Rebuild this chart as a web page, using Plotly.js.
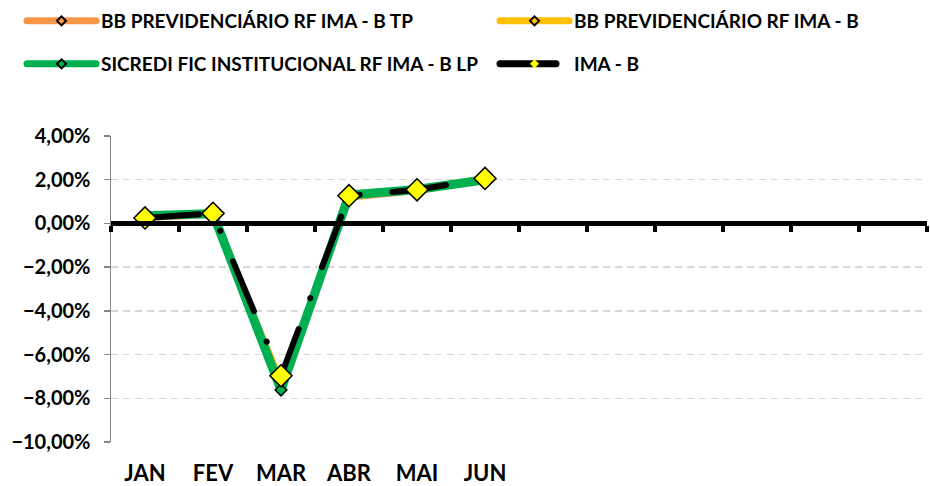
<!DOCTYPE html>
<html>
<head>
<meta charset="utf-8">
<script src="https://cdn.plot.ly/plotly-3.0.1.min.js"></script>
<style>
html,body{margin:0;padding:0;background:#fff;}
#chart{width:930px;height:486px;}
.scatterlayer path.js-line{stroke-linecap:round;}
.legendlines path{stroke-linecap:round;}
</style>
</head>
<body>
<div id="chart"></div>
<script>
const months = ['JAN','FEV','MAR','ABR','MAI','JUN'];
const seriesNames = ['BB PREVIDENCIÁRIO RF IMA - B TP','BB PREVIDENCIÁRIO RF IMA - B','SICREDI FIC INSTITUCIONAL RF IMA - B LP','IMA - B'];
const bbTP = [0.0022, 0.0036, -0.0720, 0.0115, 0.0146, 0.0200];
const bbIMAB = [0.0024, 0.0039, -0.0715, 0.0118, 0.0149, 0.0202];
const sicredi = [0.0035, 0.0045, -0.0762, 0.0130, 0.0155, 0.0200];
const imaB = [0.0025, 0.0046, -0.0697, 0.0127, 0.0154, 0.0206];
const yTicks = [0.04, 0.02, 0, -0.02, -0.04, -0.06, -0.08, -0.10];

const FONT = "Lato, 'Open Sans', sans-serif";
const colors = ['#F79646', '#FFC000', '#00B050', '#000000'];

const traces = [
  {x: months, y: bbTP, type: 'scatter', mode: 'lines+markers', showlegend: false,
   line: {color: colors[0], width: 5},
   marker: {symbol: 'diamond', size: 9, color: colors[0], line: {color: '#000', width: 1.5}}},
  {x: months, y: bbIMAB, type: 'scatter', mode: 'lines+markers', showlegend: false,
   line: {color: colors[1], width: 4.5},
   marker: {symbol: 'diamond', size: 9, color: colors[1], line: {color: '#000', width: 1.5}}},
  {x: months, y: sicredi, type: 'scatter', mode: 'lines+markers', showlegend: false,
   line: {color: colors[2], width: 9},
   marker: {symbol: 'diamond', size: 9, color: colors[2], line: {color: '#000', width: 1.5}}},
  {x: months, y: imaB, type: 'scatter', mode: 'lines+markers', showlegend: false,
   line: {color: colors[3], width: 6, dash: '54px,33px,0.1px,33px'},
   marker: {symbol: 'diamond', size: 17, color: '#FFFF00', line: {color: '#000', width: 1.5}}}
];

// legend entries
const legendIds = ['legend', 'legend2', 'legend3', 'legend4'];
seriesNames.forEach((nm, i) => {
  traces.push({
    x: [null], y: [null], type: 'scatter', mode: 'lines+markers', name: nm,
    legend: legendIds[i], showlegend: true,
    line: i === 3 ? {color: colors[i], width: 7, dash: '56px,100px'} : {color: colors[i], width: 7},
    marker: i === 3
      ? {symbol: 'diamond', size: 7, color: '#FFFF00', line: {width: 0}}
      : {symbol: 'diamond', size: 7, color: colors[i], line: {color: '#000', width: 2}}
  });
});

const W = 930, H = 486;
const M = {l: 111, r: 3, t: 135, b: 44};
const pw = W - M.l - M.r, ph = H - M.t - M.b;
const px2x = p => (p - M.l) / pw;
const py2y = p => (H - M.b - p) / ph;

function mkLegend(xp, yp) {
  return {x: px2x(xp), y: py2y(yp), xanchor: 'left', yanchor: 'middle',
    orientation: 'v', bgcolor: 'rgba(0,0,0,0)', itemwidth: 69,
    font: {family: FONT, size: 19, color: '#000', weight: 'bold'}};
}

const layout = {
  width: W, height: H, margin: M,
  paper_bgcolor: '#fff', plot_bgcolor: '#fff',
  separators: ',.',
  font: {family: FONT, color: '#000'},
  showlegend: true,
  legend: mkLegend(22, 21),
  legend2: mkLegend(495, 21),
  legend3: mkLegend(22, 64),
  legend4: mkLegend(495, 64),
  xaxis: {
    type: 'category', categoryarray: months, range: [-0.5, 11.5],
    showgrid: false, showline: false, zeroline: false, ticks: '',
    tickfont: {family: FONT, size: 22, color: '#000', weight: 'bold'},
    ticklabelstandoff: 16, fixedrange: true
  },
  xaxis2: {
    type: 'linear', overlaying: 'x', anchor: 'free', position: 10 / 14, side: 'bottom',
    range: [-0.5, 11.5], tickmode: 'linear', tick0: -0.5, dtick: 1,
    showticklabels: false, showgrid: false, zeroline: false,
    showline: true, linecolor: '#000', linewidth: 5,
    ticks: 'outside', ticklen: 6, tickwidth: 4, tickcolor: '#000'
  },
  yaxis: {
    range: [-0.10, 0.04], tickmode: 'array', tickvals: yTicks, tickformat: '.2%',
    showgrid: true, gridcolor: '#d9d9d9', gridwidth: 1.5, griddash: '7px,5px',
    showline: true, linecolor: '#868686', linewidth: 1.5,
    ticks: 'outside', ticklen: 6, tickcolor: '#868686', tickwidth: 1.5,
    zeroline: false,
    tickfont: {family: FONT, size: 20, color: '#000', weight: 'bold'},
    ticklabelstandoff: 9
  }
};

// invisible trace to activate xaxis2
traces.unshift({x: [0], y: [0], xaxis: 'x2', type: 'scatter', mode: 'markers',
  marker: {opacity: 0}, showlegend: false, hoverinfo: 'skip'});

Plotly.newPlot('chart', traces, layout, {displayModeBar: false, staticPlot: true});
</script>
</body>
</html>
